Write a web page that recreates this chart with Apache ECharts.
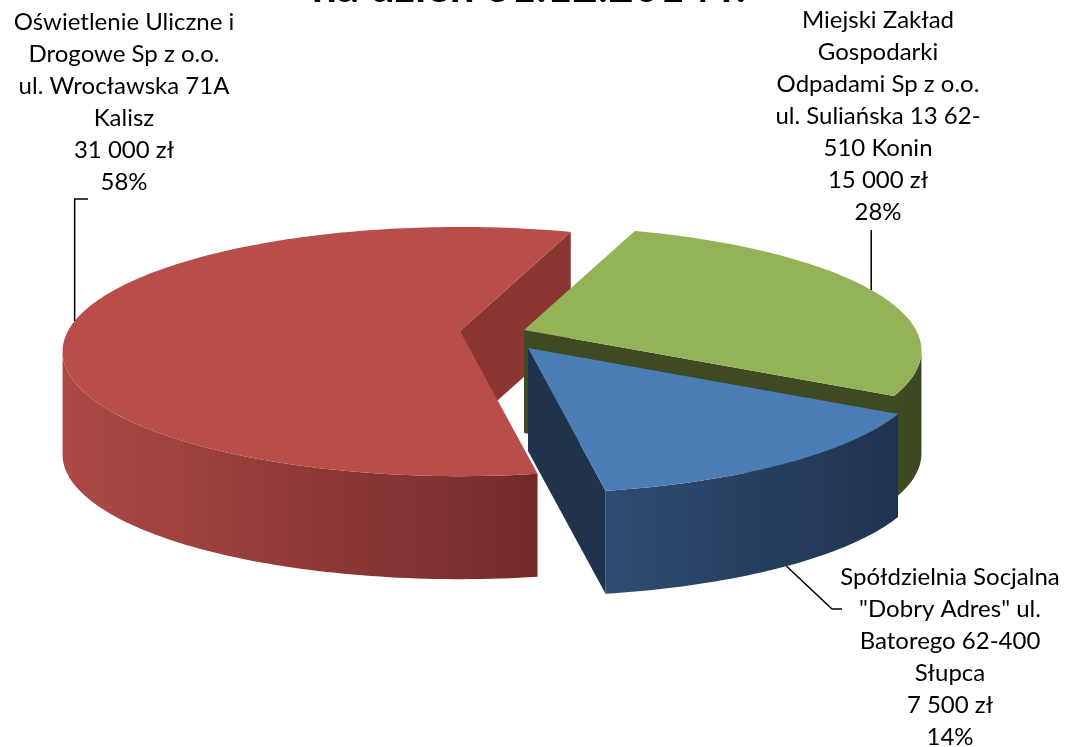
<!DOCTYPE html>
<html>
<head>
<meta charset="utf-8">
<script src="https://cdn.jsdelivr.net/npm/echarts@6/dist/echarts.min.js"></script>
<style>
  html, body { margin: 0; padding: 0; background: #fff; }
  #main { width: 1065px; height: 747px; }
</style>
</head>
<body>
<div id="main"></div>
<script>
// dane
var names = [
  'Spółdzielnia Socjalna\n"Dobry Adres" ul.\nBatorego 62-400\nSłupca',
  'Oświetlenie Uliczne i\nDrogowe Sp z o.o.\nul. Wrocławska 71A\nKalisz',
  'Miejski Zakład\nGospodarki\nOdpadami Sp z o.o.\nul. Suliańska 13 62-\n510 Konin'
];
var values = [7500, 31000, 15000];
var titleText = 'na dzień 31.12.2014 r.';

// wygląd (pseudo 3D)
var topColors = ['#4A7DB5', '#B94D49', '#94B256'];
var sideColors = [['#2E4D72', '#1F3350'], ['#AC4A45', '#742A2A'], ['#3F4B24', '#3C4722']];
var cutColors = ['#1F334C', '#8C3634', '#3E4A23'];
var offsets = [[3, 18], [-65, 1], [-1, 0]];   // przesunięcie wycinków (px)
var drawOrder = [20, 0, 10];
var labelPos = [[950, 561], [124, 6], [878, 4]];
// linie odniesienia: punkty za krawędzią wycinka (null = pion od krawędzi)
var leaderExtra = [[[832, 609], [842, 609]], [[null, 199], [88, 199]], [[null, 230]]];

var CX = 525, CY = 330, RX = 392, RY = 121.2, P = 0.165, DEPTH = 103;
var firstAngle = 30 * Math.PI / 180;   // od godz. 3, zgodnie z zegarem
var FONT = '24px Lato, "Open Sans", sans-serif';

var total = values.reduce(function (a, b) { return a + b; }, 0);
var starts = [], spans = [];
var acc = firstAngle;
values.forEach(function (v) {
  starts.push(acc);
  spans.push(v / total * Math.PI * 2);
  acc += v / total * Math.PI * 2;
});

function proj(a, r, h, off) {
  var u = r * Math.cos(a), v = r * Math.sin(a), w = 1 - P * v;
  return [CX + off[0] + RX * u / w, CY + off[1] + RY * v / w + h * DEPTH];
}
function arc(a1, a2, h, off) {
  var n = Math.max(2, Math.ceil(Math.abs(a2 - a1) / 0.02));
  var pts = [];
  for (var k = 0; k <= n; k++) pts.push(proj(a1 + (a2 - a1) * k / n, 1, h, off));
  return pts;
}
function area(pts) {
  var s = 0;
  for (var k = 0; k < pts.length; k++) {
    var p = pts[k], q = pts[(k + 1) % pts.length];
    s += p[0] * q[1] - q[0] * p[1];
  }
  return s;
}
function fmt(v) {
  return String(v).replace(/\B(?=(\d{3})+(?!\d))/g, ' ');
}

var sil = Math.asin(P);

function renderItem(params, api) {
  var i = params.dataIndex;
  var v = api.value(1);
  var a1 = starts[i], a2 = a1 + spans[i];
  var off = offsets[i];
  var z = drawOrder[i];
  var kids = [];

  // ściana zewnętrzna (widoczna część)
  for (var k = -1; k <= 1; k++) {
    var lo = Math.max(a1, sil + k * 2 * Math.PI);
    var hi = Math.min(a2, Math.PI - sil + k * 2 * Math.PI);
    if (hi > lo) {
      var pts = arc(lo, hi, 0, off).concat(arc(hi, lo, 1, off));
      kids.push({
        type: 'polygon', z2: z,
        shape: { points: pts },
        style: {
          fill: new echarts.graphic.LinearGradient(0, 0, 1, 0, [
            { offset: 0, color: sideColors[i][0] },
            { offset: 1, color: sideColors[i][1] }
          ])
        }
      });
    }
  }
  // ściany przekroju
  [[a1, -1], [a2, 1]].forEach(function (f) {
    var q = [proj(f[0], 0, 0, off), proj(f[0], 1, 0, off), proj(f[0], 1, 1, off), proj(f[0], 0, 1, off)];
    if (area(q) * f[1] > 0) {
      kids.push({ type: 'polygon', z2: z + 1, shape: { points: q }, style: { fill: cutColors[i] } });
    }
  });
  // góra
  kids.push({
    type: 'polygon', z2: z + 2,
    shape: { points: [proj(a1, 0, 0, off)].concat(arc(a1, a2, 0, off)) },
    style: { fill: topColors[i] }
  });

  // etykieta
  var pct = Math.round(v / total * 100);
  kids.push({
    type: 'text', z2: 100,
    style: {
      text: names[i] + '\n' + fmt(v) + ' zł\n' + pct + '%',
      x: labelPos[i][0], y: labelPos[i][1],
      align: 'center', verticalAlign: 'top',
      lineHeight: 32, font: FONT, fill: '#000'
    }
  });
  // linia odniesienia
  var mid = (a1 + a2) / 2;
  var start = proj(mid, 1, Math.sin(mid) > 0.3 ? 1 : 0, off);
  var line = [start];
  leaderExtra[i].forEach(function (p) {
    line.push([p[0] === null ? start[0] : p[0], p[1]]);
  });
  kids.push({
    type: 'polyline', z2: 99,
    shape: { points: line },
    style: { stroke: '#000', lineWidth: 1.5, fill: null }
  });

  return { type: 'group', children: kids };
}

var myChart = echarts.init(document.getElementById('main'));
var option = {
  animation: false,
  graphic: [{
    type: 'text',
    style: {
      text: titleText, x: 529, y: 10,
      align: 'center', verticalAlign: 'bottom',
      font: 'bold 44px Lato, "Open Sans", sans-serif', fill: '#000'
    }
  }],
  series: [{
    type: 'custom',
    coordinateSystem: 'none',
    silent: true,
    renderItem: renderItem,
    data: values.map(function (v, i) { return [i, v]; })
  }]
};
myChart.setOption(option);
</script>
</body>
</html>
